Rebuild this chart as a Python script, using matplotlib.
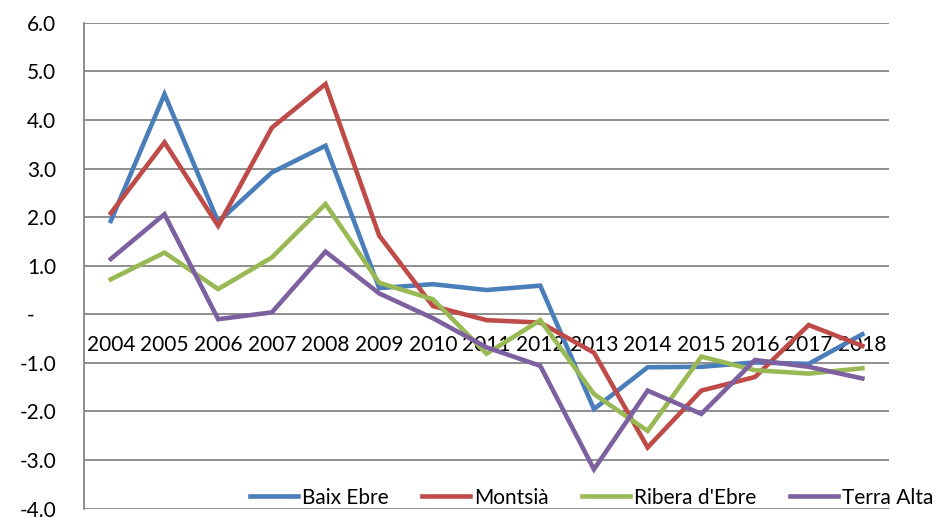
import matplotlib
matplotlib.use('Agg')
import matplotlib.pyplot as plt
from matplotlib.ticker import FixedLocator, FuncFormatter

years = ['2004', '2005', '2006', '2007', '2008', '2009', '2010', '2011',
         '2012', '2013', '2014', '2015', '2016', '2017', '2018']

baix_ebre = [1.92, 4.53, 1.90, 2.92, 3.47, 0.54, 0.62, 0.50, 0.59, -1.95,
             -1.09, -1.08, -0.99, -1.02, -0.41]
montsia = [2.08, 3.54, 1.82, 3.84, 4.74, 1.62, 0.17, -0.12, -0.17, -0.79,
           -2.74, -1.57, -1.29, -0.22, -0.65]
ribera = [0.72, 1.27, 0.52, 1.17, 2.27, 0.65, 0.31, -0.81, -0.12, -1.64,
          -2.40, -0.87, -1.15, -1.22, -1.11]
terra_alta = [1.14, 2.06, -0.10, 0.04, 1.29, 0.43, -0.08, -0.68, -1.06, -3.19,
              -1.57, -2.05, -0.94, -1.08, -1.32]

series = [('Baix Ebre', baix_ebre, '#4A7EBB'),
          ('Montsià', montsia, '#BE4B48'),
          ("Ribera d'Ebre", ribera, '#98B954'),
          ('Terra Alta', terra_alta, '#7D60A0')]

plt.rcParams['font.family'] = ['Lato', 'DejaVu Sans']
plt.rcParams['font.size'] = 15

fig = plt.figure(figsize=(9.36, 5.18), dpi=100)
ax = fig.add_axes([0.0897, 0.018, 0.8603, 0.938])

x = list(range(len(years)))
for name, vals, col in series:
    ax.plot(x, vals, color=col, lw=3.3, label=name, solid_joinstyle='miter')

ax.set_xlim(-0.5, len(years) - 0.5)
ax.set_ylim(-4, 6)
ax.yaxis.set_major_locator(FixedLocator(range(-4, 7)))


def fmt(v, pos):
    if abs(v) < 1e-9:
        return '-    '
    return '%.1f' % v


ax.yaxis.set_major_formatter(FuncFormatter(fmt))
ax.grid(axis='y', color='#868686', lw=1.3)
ax.set_axisbelow(True)

ax.set_xticks(x)
ax.set_xticklabels(years)
ax.spines['bottom'].set_position(('data', 0))
ax.spines['bottom'].set_visible(False)
ax.spines['top'].set_visible(False)
ax.spines['right'].set_visible(False)
ax.spines['left'].set_color('#868686')
ax.spines['left'].set_linewidth(1.3)
ax.tick_params(axis='x', length=0, pad=15)
ax.tick_params(axis='y', length=0, pad=20)

fig.legend(loc='lower left', bbox_to_anchor=(250 / 936, 0.02), ncol=4,
           frameon=False, handlelength=2.3, handletextpad=0.2,
           columnspacing=1.6, borderpad=0, borderaxespad=0)

fig.savefig('out.png', dpi=100)
